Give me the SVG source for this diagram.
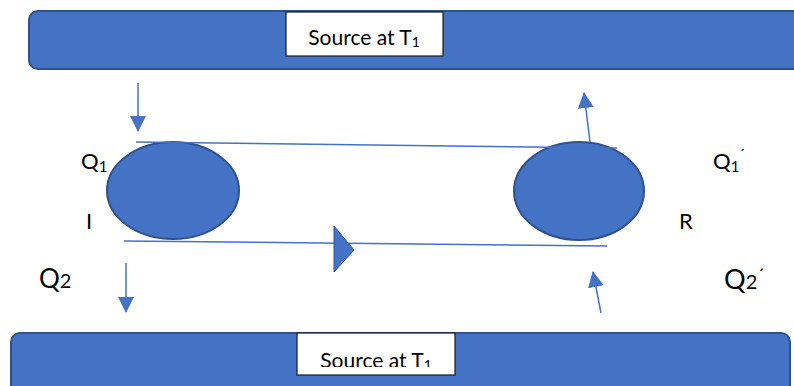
<svg xmlns="http://www.w3.org/2000/svg" width="794" height="386" viewBox="0 0 794 386">
  <style>
    .bar { fill: #4472C4; stroke: #2F528F; stroke-width: 2; }
    .node { fill: #4472C4; stroke: #2F528F; stroke-width: 2; }
    .box { fill: #ffffff; stroke: #1a1a1a; stroke-width: 1.2; }
    .lbl { font-family: "Lato", "Liberation Sans", sans-serif; fill: #000000; }
    .conn { stroke: #4472C4; stroke-width: 1.5; fill: none; }
    .head { fill: #4472C4; }
  </style>
  <defs>
    <marker id="arrowL" viewBox="0 0 16 16" refX="15" refY="8" markerWidth="16" markerHeight="16" markerUnits="userSpaceOnUse" orient="auto">
      <path d="M0,0 L16,8 L0,16 Z" class="head"/>
    </marker>
    <clipPath id="clipBottomBox">
      <rect x="297" y="333" width="158" height="34"/>
    </clipPath>
  </defs>

  <!-- hot reservoir -->
  <g id="source-top">
    <rect class="bar" x="29" y="11" width="790" height="58" rx="9"/>
    <rect class="box" x="286" y="12" width="157" height="44"/>
    <text class="lbl" x="364" y="45" font-size="21" text-anchor="middle">Source at T<tspan font-size="14" dy="2">1</tspan></text>
  </g>

  <!-- cold reservoir -->
  <g id="source-bottom">
    <rect class="bar" x="11" y="333" width="779" height="62" rx="9"/>
    <rect class="box" x="297" y="333" width="158" height="42"/>
    <g clip-path="url(#clipBottomBox)">
      <text class="lbl" x="376" y="368" font-size="21" text-anchor="middle">Source at T<tspan font-size="14" dy="2">1</tspan></text>
    </g>
  </g>

  <!-- irreversible engine -->
  <g id="engine-I">
    <ellipse class="node" cx="173" cy="190.5" rx="66" ry="48.5"/>
  </g>

  <!-- reversible engine -->
  <g id="engine-R">
    <ellipse class="node" cx="579" cy="191" rx="65" ry="49"/>
  </g>

  <!-- connectors -->
  <g id="connectors">
    <line class="conn" x1="136" y1="142" x2="617" y2="148"/>
    <line class="conn" x1="124" y1="241" x2="607" y2="246"/>
    <polygon points="334,226 354,250 334,272" fill="#4472C4" stroke="#2F528F" stroke-width="1"/>
    <line class="conn" x1="138" y1="83" x2="138" y2="131" marker-end="url(#arrowL)"/>
    <line class="conn" x1="126" y1="263" x2="126" y2="312" marker-end="url(#arrowL)"/>
    <line class="conn" x1="590" y1="142" x2="584" y2="93" marker-end="url(#arrowL)"/>
    <line class="conn" x1="601" y1="313" x2="593" y2="272" marker-end="url(#arrowL)"/>
  </g>

  <!-- labels -->
  <g id="labels">
    <text class="lbl" x="81" y="169" font-size="22">Q<tspan font-size="15" dy="3">1</tspan></text>
    <text class="lbl" x="86" y="229" font-size="22">I</text>
    <text class="lbl" x="39" y="288" font-size="26">Q<tspan font-size="20">2</tspan></text>
    <text class="lbl" x="713" y="169" font-size="22">Q<tspan font-size="15" dy="3">1</tspan><tspan font-size="14" dy="-13">´</tspan></text>
    <text class="lbl" x="679" y="229" font-size="22">R</text>
    <text class="lbl" x="724" y="289" font-size="27">Q<tspan font-size="20">2</tspan><tspan font-size="18" dy="-8">´</tspan></text>
  </g>
</svg>
